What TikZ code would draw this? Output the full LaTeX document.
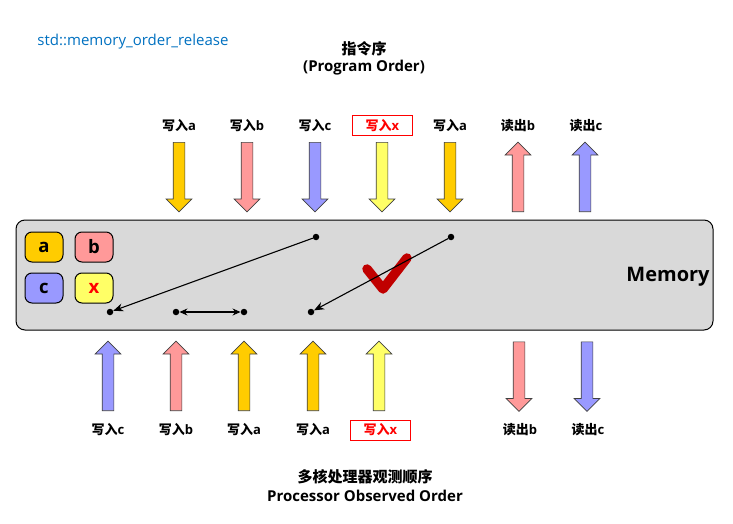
\documentclass[tikz,border=0pt]{standalone}
\usepackage{fontspec}
\setmainfont{Open Sans}
\newfontfamily\cjk{Noto Sans CJK SC}
\usetikzlibrary{arrows.meta}
\usetikzlibrary{shapes.arrows}

\definecolor{cola}{HTML}{FFCC00}
\definecolor{colb}{HTML}{FF9999}
\definecolor{colc}{HTML}{9999FF}
\definecolor{colx}{HTML}{FFFF66}
\definecolor{memgray}{HTML}{D9D9D9}
\definecolor{checkred}{HTML}{C00000}
\definecolor{titleblue}{HTML}{0070C0}

\tikzset{
  opnode/.style={font=\fontsize{13}{15}\selectfont\bfseries, inner sep=0pt},
  varbox/.style={draw=black, line width=1pt, rounded corners=7pt, minimum width=38pt, minimum height=30pt, inner sep=0pt, font=\fontsize{18.5}{22}\selectfont\bfseries},
  flow/.style={single arrow, draw=black!75, line width=0.7pt, minimum height=69.5pt, minimum width=25pt, single arrow head extend=7pt, single arrow tip angle=90, inner sep=5.5pt, anchor=tail},
  dot/.style={circle, fill=black, inner sep=0pt, minimum size=6.5pt},
  title/.style={font=\fontsize{15}{18}\selectfont\bfseries, inner sep=0pt}
}

\begin{document}
\begin{tikzpicture}[x=1pt, y=-1pt]
        \useasboundingbox (0,0) rectangle (733,524);

        % Memory bar
        \node[draw=black, line width=1pt, fill=memgray, rounded corners=9pt, minimum width=697pt, minimum height=110pt, inner sep=0pt] (memory) at (364.5,275) {};
        \node[inner sep=0pt, font=\fontsize{20}{24}\selectfont\bfseries] (memlabel) at (668,276.5) {Memory};

        % Variables
        \node[varbox, fill=cola] (vara) at (44,247) {a};
        \node[varbox, fill=colb] (varb) at (94,247) {b};
        \node[varbox, fill=colc] (varc) at (44,288) {c};
        \node[varbox, fill=colx, text=red] (varx) at (94,288) {x};

        % Titles
        \node[inner sep=0pt, text=titleblue, font=\fontsize{15}{18}\selectfont] (name) at (133,41.5) {std::memory\_order\_release};
        \node[title] (progzh) at (364,48.5) {\cjk\bfseries 指令序};
        \node[title] (progen) at (364,67.5) {(Program Order)};
        \node[title] (obszh) at (365,477) {\cjk\bfseries 多核处理器观测顺序};
        \node[title] (obsen) at (365,496) {Processor Observed Order};

        % Program order
        \foreach \x/\y/\col/\rot/\n in {179/142/cola/-90/1, 247/142/colb/-90/2, 315/142/colc/-90/3, 382/142/colx/-90/4, 450/142/cola/-90/5, 518/212/colb/90/6, 585/212/colc/90/7} {
          \node[flow, fill=\col, rotate=\rot] (ptop\n) at (\x,\y) {};
        }
        \foreach \x/\zh/\v/\n in {179/写入/a/1, 247/写入/b/2, 315/写入/c/3, 450/写入/a/5, 518/读出/b/6, 586/读出/c/7} {
          \node[opnode] (ltop\n) at (\x,125.5) {{\cjk\bfseries \zh}\v};
        }
        \node[opnode, text=red, draw=red, line width=0.8pt, minimum width=60pt, minimum height=20pt] (ltop4) at (382.5,125.5) {{\cjk\bfseries 写入}x};

        % Observed order
        \foreach \x/\y/\col/\rot/\n in {108/411/colc/90/1, 176/411/colb/90/2, 244/411/cola/90/3, 313/411/cola/90/4, 379/411/colx/90/5, 519/341.5/colb/-90/6, 587/341.5/colc/-90/7} {
          \node[flow, fill=\col, rotate=\rot] (pbot\n) at (\x,\y) {};
        }
        \foreach \x/\zh/\v/\n in {108/写入/c/1, 176/写入/b/2, 244/写入/a/3, 313/写入/a/4, 520/读出/b/6, 588/读出/c/7} {
          \node[opnode] (lbot\n) at (\x,429.5) {{\cjk\bfseries \zh}\v};
        }
        \node[opnode, text=red, draw=red, line width=0.8pt, minimum width=60pt, minimum height=20pt] (lbot5) at (380.5,430) {{\cjk\bfseries 写入}x};

        % Check mark
        \draw[checkred, line width=9.5pt, line cap=round, line join=round] (367,269) -- (383,289) -- (407,258);

        % Reordering
        \node[dot] (c1) at (316,237) {};
        \node[dot] (a2) at (451,237) {};
        \node[dot] (c2) at (110,312) {};
        \node[dot] (b1) at (176,312) {};
        \node[dot] (a1) at (244,312) {};
        \node[dot] (a3) at (311,312) {};

        \draw[line width=1.1pt, -{Stealth[length=10pt, width=8pt]}] (c1) -- (c2);
        \draw[line width=1.1pt, -{Stealth[length=10pt, width=8pt]}] (a2) -- (a3);
        \draw[line width=1.1pt, {Stealth[length=8pt, width=7pt]}-{Stealth[length=8pt, width=7pt]}] (b1) -- (a1);
      \end{tikzpicture}
\end{document}
